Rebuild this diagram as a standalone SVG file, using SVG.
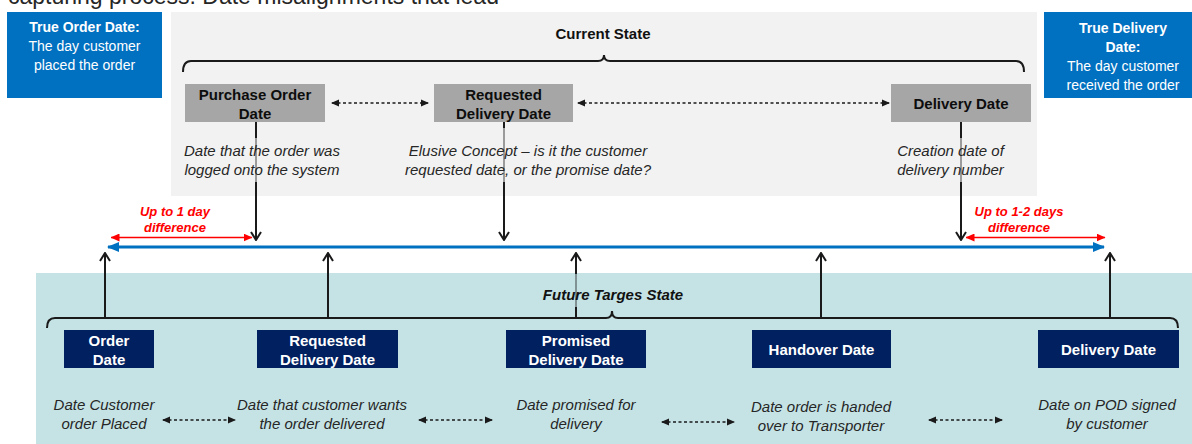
<svg xmlns="http://www.w3.org/2000/svg" width="1192" height="444" viewBox="0 0 1192 444">
  <defs>
    <style>
      text { font-family: "Liberation Sans", Arial, sans-serif; }
      .title { font-size: 23px; fill: #262626; }
      .truebox { fill: #0070C0; }
      .truetxt { font-size: 14px; fill: #ffffff; text-anchor: middle; }
      .b { font-weight: bold; }
      .head { font-size: 15px; font-weight: bold; fill: #111111; text-anchor: middle; }
      .headi { font-size: 15px; font-weight: bold; font-style: italic; fill: #111111; text-anchor: middle; }
      .gbox { fill: #A6A6A6; }
      .gtxt { font-size: 15px; font-weight: bold; fill: #0d0d0d; text-anchor: middle; }
      .nbox { fill: #002060; }
      .ntxt { font-size: 15px; font-weight: bold; fill: #ffffff; text-anchor: middle; }
      .desc { font-size: 15px; font-style: italic; fill: #262626; text-anchor: middle; }
      .red { font-size: 13px; font-weight: bold; font-style: italic; fill: #FF0000; text-anchor: middle; }
      .brace { fill: none; stroke: #1a1a1a; stroke-width: 2; }
      .vline { fill: none; stroke: #1a1a1a; stroke-width: 2; }
      .dash { fill: none; stroke: #1a1a1a; stroke-width: 1.4; stroke-dasharray: 3 2.5; }
      .blue { fill: none; stroke: #0070C0; stroke-width: 3; }
      .redl { fill: none; stroke: #FF0000; stroke-width: 1.6; }
    </style>
    <marker id="open" viewBox="0 0 10 12" refX="9" refY="6" markerWidth="10" markerHeight="12" markerUnits="userSpaceOnUse" orient="auto">
      <path d="M1,1 L9,6 L1,11" fill="none" stroke="#1a1a1a" stroke-width="2"/>
    </marker>
    <marker id="tri" viewBox="0 0 8 8" refX="7" refY="4" markerWidth="8" markerHeight="8" markerUnits="userSpaceOnUse" orient="auto-start-reverse">
      <path d="M0,0.5 L8,4 L0,7.5 Z" fill="#1a1a1a"/>
    </marker>
    <marker id="bhead" viewBox="0 0 12 10" refX="11" refY="5" markerWidth="12" markerHeight="10" markerUnits="userSpaceOnUse" orient="auto-start-reverse">
      <path d="M0,0 L12,5 L0,10 Z" fill="#0070C0"/>
    </marker>
    <marker id="rhead" viewBox="0 0 9 8" refX="8.5" refY="4" markerWidth="9" markerHeight="8" markerUnits="userSpaceOnUse" orient="auto-start-reverse">
      <path d="M0,0 L9,4 L0,8 Z" fill="#FF0000"/>
    </marker>
  </defs>

  <rect width="1192" height="444" fill="#ffffff"/>

  <!-- heading running off the top edge -->
  <text class="title" x="8" y="4">capturing process: Date misalignments that lead</text>

  <!-- state panels -->
  <rect id="current-panel" x="171" y="12" width="866" height="184" fill="#F2F2F2"/>
  <rect id="future-panel" x="36" y="273" width="1156" height="171" fill="#C5E3E5"/>

  <!-- connectors -->
  <g id="connectors">
    <!-- down arrows from the current-state dates to the timeline -->
    <line class="vline" x1="256" y1="122" x2="256" y2="240" marker-end="url(#open)"/>
    <line class="vline" x1="504" y1="122" x2="504" y2="240" marker-end="url(#open)"/>
    <line class="vline" x1="961" y1="122" x2="961" y2="240" marker-end="url(#open)"/>

    <!-- up arrows from the future-state brace to the timeline -->
    <line class="vline" x1="105" y1="318" x2="105" y2="253" marker-end="url(#open)"/>
    <line class="vline" x1="328" y1="318" x2="328" y2="253" marker-end="url(#open)"/>
    <line class="vline" x1="576" y1="318" x2="576" y2="253" marker-end="url(#open)"/>
    <line class="vline" x1="821" y1="318" x2="821" y2="253" marker-end="url(#open)"/>
    <line class="vline" x1="1110" y1="318" x2="1110" y2="253" marker-end="url(#open)"/>

    <!-- braces -->
    <path class="brace" d="M183,72 Q183,61 191,61 L598,61 Q604,61 604,55 Q604,61 610,61 L1016,61 Q1024,61 1024,72"/>
    <path class="brace" d="M47,328 Q47,318 55,318 L606,318 Q612,318 612,311 Q612,318 618,318 L1170,318 Q1178,318 1178,328"/>

    <!-- timeline -->
    <line class="blue" x1="108" y1="247" x2="1104" y2="247" marker-start="url(#bhead)" marker-end="url(#bhead)"/>

    <!-- tolerance spans -->
    <line class="redl" x1="111" y1="237.5" x2="252" y2="237.5" marker-start="url(#rhead)" marker-end="url(#rhead)"/>
    <line class="redl" x1="966" y1="237.5" x2="1105" y2="237.5" marker-start="url(#rhead)" marker-end="url(#rhead)"/>

    <!-- dashed links between current-state dates -->
    <line class="dash" x1="332" y1="103" x2="428" y2="103" marker-start="url(#tri)" marker-end="url(#tri)"/>
    <line class="dash" x1="578" y1="103" x2="889" y2="103" marker-start="url(#tri)" marker-end="url(#tri)"/>

    <!-- dashed links between future-state descriptions -->
    <line class="dash" x1="163" y1="420" x2="235" y2="420" marker-start="url(#tri)" marker-end="url(#tri)"/>
    <line class="dash" x1="419" y1="420" x2="492" y2="420" marker-start="url(#tri)" marker-end="url(#tri)"/>
    <line class="dash" x1="662" y1="422" x2="734" y2="422" marker-start="url(#tri)" marker-end="url(#tri)"/>
    <line class="dash" x1="929" y1="420" x2="1002" y2="420" marker-start="url(#tri)" marker-end="url(#tri)"/>
  </g>

  <!-- outer reference boxes -->
  <g id="true-order-date">
    <rect class="truebox" x="7" y="12" width="155" height="86"/>
    <text class="truetxt" x="84.5" y="32"><tspan class="b">True Order Date:</tspan></text>
    <text class="truetxt" x="84.5" y="51">The day customer</text>
    <text class="truetxt" x="84.5" y="70">placed the order</text>
  </g>
  <g id="true-delivery-date">
    <rect class="truebox" x="1044" y="12" width="148" height="86"/>
    <text class="truetxt b" x="1123" y="33">True Delivery</text>
    <text class="truetxt b" x="1123" y="52">Date:</text>
    <text class="truetxt" x="1123" y="71">The day customer</text>
    <text class="truetxt" x="1123" y="90">received the order</text>
  </g>

  <!-- current state -->
  <g id="current-state-label">
    <text class="head" x="603" y="38.5">Current State</text>
  </g>
  <g id="purchase-order-date">
    <rect class="gbox" x="185" y="84" width="140" height="38"/>
    <text class="gtxt" x="255" y="99.5">Purchase Order</text>
    <text class="gtxt" x="255" y="118.5">Date</text>
    <rect x="178" y="138" width="170" height="44" fill="#F2F2F2" opacity="0.6"/>
    <text class="desc" x="262" y="156">Date that the order was</text>
    <text class="desc" x="262" y="174.5">logged onto the system</text>
  </g>
  <g id="requested-delivery-date-current">
    <rect class="gbox" x="434" y="84" width="139" height="38"/>
    <text class="gtxt" x="503.5" y="99.5">Requested</text>
    <text class="gtxt" x="503.5" y="118.5">Delivery Date</text>
    <rect x="399" y="128" width="260" height="54" fill="#F2F2F2" opacity="0.6"/>
    <text class="desc" x="528" y="156">Elusive Concept – is it the customer</text>
    <text class="desc" x="528" y="174.5">requested date, or the promise date?</text>
  </g>
  <g id="delivery-date-current">
    <rect class="gbox" x="891" y="84" width="140" height="38"/>
    <text class="gtxt" x="961" y="108.5">Delivery Date</text>
    <rect x="890" y="138" width="122" height="44" fill="#F2F2F2" opacity="0.6"/>
    <text class="desc" x="950.5" y="156">Creation date of</text>
    <text class="desc" x="950.5" y="174.5">delivery number</text>
  </g>

  <!-- tolerance labels -->
  <g id="order-tolerance">
    <text class="red" x="175" y="215.5">Up to 1 day</text>
    <text class="red" x="175" y="231.5">difference</text>
  </g>
  <g id="delivery-tolerance">
    <text class="red" x="1019" y="215.5">Up to 1-2 days</text>
    <text class="red" x="1019" y="231.5">difference</text>
  </g>

  <!-- future state -->
  <g id="future-state-label">
    <rect x="535" y="274" width="156" height="33" fill="#C5E3E5" opacity="0.6"/>
    <text class="headi" x="613" y="299.5">Future Targes State</text>
  </g>
  <g id="order-date">
    <rect class="nbox" x="64" y="330" width="90" height="38"/>
    <text class="ntxt" x="109" y="345.5">Order</text>
    <text class="ntxt" x="109" y="364.5">Date</text>
    <text class="desc" x="104" y="410">Date Customer</text>
    <text class="desc" x="104" y="428.5">order Placed</text>
  </g>
  <g id="requested-delivery-date">
    <rect class="nbox" x="257" y="330" width="141" height="38"/>
    <text class="ntxt" x="327.5" y="345.5">Requested</text>
    <text class="ntxt" x="327.5" y="364.5">Delivery Date</text>
    <text class="desc" x="322" y="410">Date that customer wants</text>
    <text class="desc" x="322" y="428.5">the order delivered</text>
  </g>
  <g id="promised-delivery-date">
    <rect class="nbox" x="506" y="330" width="140" height="38"/>
    <text class="ntxt" x="576" y="345.5">Promised</text>
    <text class="ntxt" x="576" y="364.5">Delivery Date</text>
    <text class="desc" x="576" y="410">Date promised for</text>
    <text class="desc" x="576" y="428.5">delivery</text>
  </g>
  <g id="handover-date">
    <rect class="nbox" x="752" y="330" width="139" height="38"/>
    <text class="ntxt" x="821.5" y="354.5">Handover Date</text>
    <text class="desc" x="821" y="412">Date order is handed</text>
    <text class="desc" x="821" y="430.5">over to Transporter</text>
  </g>
  <g id="delivery-date">
    <rect class="nbox" x="1038" y="330" width="141" height="38"/>
    <text class="ntxt" x="1108.5" y="354.5">Delivery Date</text>
    <text class="desc" x="1107" y="410">Date on POD signed</text>
    <text class="desc" x="1107" y="428.5">by customer</text>
  </g>
</svg>
